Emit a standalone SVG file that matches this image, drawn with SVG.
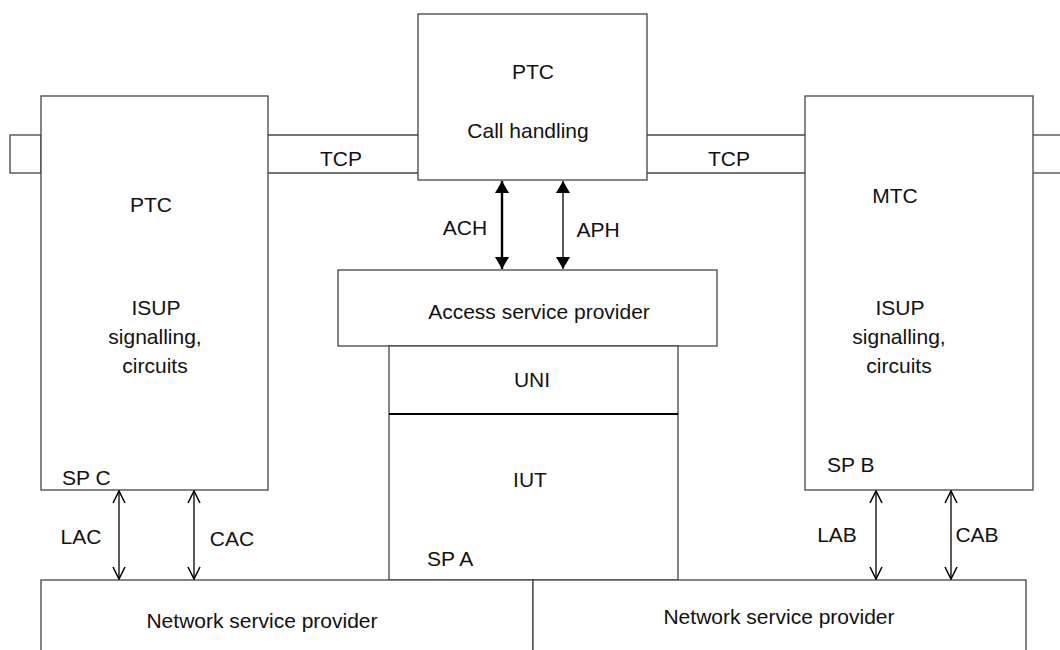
<svg xmlns="http://www.w3.org/2000/svg" width="1060" height="650" viewBox="0 0 1060 650">
<style>
.box{fill:#fff;stroke:#444;stroke-width:1.3}
.ln{fill:none;stroke:#444;stroke-width:1.3}
.t{font-family:"Liberation Sans",Arial,sans-serif;font-size:21px;fill:#111}
.c{text-anchor:middle}
.a1{stroke:#000;stroke-width:2.4;fill:none}
.a2{stroke:#000;stroke-width:1.3;fill:none}
</style>
<defs>
<marker id="fh" viewBox="0 0 12 14" refX="12" refY="7" markerWidth="12" markerHeight="14" markerUnits="userSpaceOnUse" orient="auto-start-reverse">
<path d="M0,0 L12,7 L0,14 z" fill="#000"/>
</marker>
<marker id="oh" viewBox="0 0 14 14" refX="13" refY="7" markerWidth="14" markerHeight="14" markerUnits="userSpaceOnUse" orient="auto-start-reverse">
<path d="M1,1 L13,7 L1,13" fill="none" stroke="#000" stroke-width="1.5"/>
</marker>
</defs>
<g id="tcp-links">
<rect class="box" x="10" y="135" width="31" height="38"/>
<line class="ln" x1="268" y1="135" x2="418" y2="135"/>
<line class="ln" x1="268" y1="173" x2="418" y2="173"/>
<line class="ln" x1="647" y1="135" x2="805" y2="135"/>
<line class="ln" x1="647" y1="173" x2="805" y2="173"/>
<line class="ln" x1="1033" y1="135" x2="1060" y2="135"/>
<line class="ln" x1="1033" y1="173" x2="1060" y2="173"/>
<text class="t c" x="341" y="166">TCP</text>
<text class="t c" x="729" y="166">TCP</text>
</g>
<g id="ptc-left">
<rect class="box" x="41" y="96" width="227" height="394"/>
<text class="t c" x="151" y="212">PTC</text>
<text class="t c" x="156" y="315">ISUP</text>
<text class="t c" x="155" y="344">signalling,</text>
<text class="t c" x="155" y="373">circuits</text>
<text class="t" x="62" y="485">SP C</text>
</g>
<g id="ptc-top">
<rect class="box" x="418" y="14" width="229" height="166"/>
<text class="t c" x="533" y="79">PTC</text>
<text class="t c" x="528" y="138">Call handling</text>
</g>
<g id="mtc-right">
<rect class="box" x="805" y="96" width="228" height="394"/>
<text class="t c" x="895" y="203">MTC</text>
<text class="t c" x="900" y="315">ISUP</text>
<text class="t c" x="899" y="344">signalling,</text>
<text class="t c" x="899" y="373">circuits</text>
<text class="t" x="827" y="472">SP B</text>
</g>
<g id="access">
<rect class="box" x="338" y="270" width="379" height="76"/>
<text class="t c" x="539" y="319">Access service provider</text>
</g>
<g id="iut">
<rect class="box" x="389" y="346" width="289" height="234"/>
<line x1="389" y1="414" x2="678" y2="414" stroke="#000" stroke-width="2"/>
<text class="t c" x="532" y="387">UNI</text>
<text class="t c" x="530" y="487">IUT</text>
<text class="t" x="427" y="566">SP A</text>
</g>
<g id="nsp-left">
<rect class="box" x="41" y="580" width="492" height="80"/>
<text class="t c" x="262" y="628">Network service provider</text>
</g>
<g id="nsp-right">
<rect class="box" x="533" y="580" width="493" height="80"/>
<text class="t c" x="779" y="624">Network service provider</text>
</g>
<g id="connectors">
<line class="a1" x1="502" y1="181" x2="502" y2="269" marker-start="url(#fh)" marker-end="url(#fh)"/>
<line class="a2" x1="563" y1="181" x2="563" y2="269" marker-start="url(#fh)" marker-end="url(#fh)"/>
<line class="a2" x1="119" y1="491" x2="119" y2="579" marker-start="url(#oh)" marker-end="url(#oh)"/>
<line class="a2" x1="194" y1="491" x2="194" y2="579" marker-start="url(#oh)" marker-end="url(#oh)"/>
<line class="a2" x1="876" y1="491" x2="876" y2="579" marker-start="url(#oh)" marker-end="url(#oh)"/>
<line class="a2" x1="951" y1="491" x2="951" y2="579" marker-start="url(#oh)" marker-end="url(#oh)"/>
<text class="t c" x="465" y="235">ACH</text>
<text class="t c" x="598" y="237">APH</text>
<text class="t c" x="81" y="544">LAC</text>
<text class="t c" x="232" y="546">CAC</text>
<text class="t c" x="837" y="542">LAB</text>
<text class="t c" x="977" y="542">CAB</text>
</g>
</svg>
